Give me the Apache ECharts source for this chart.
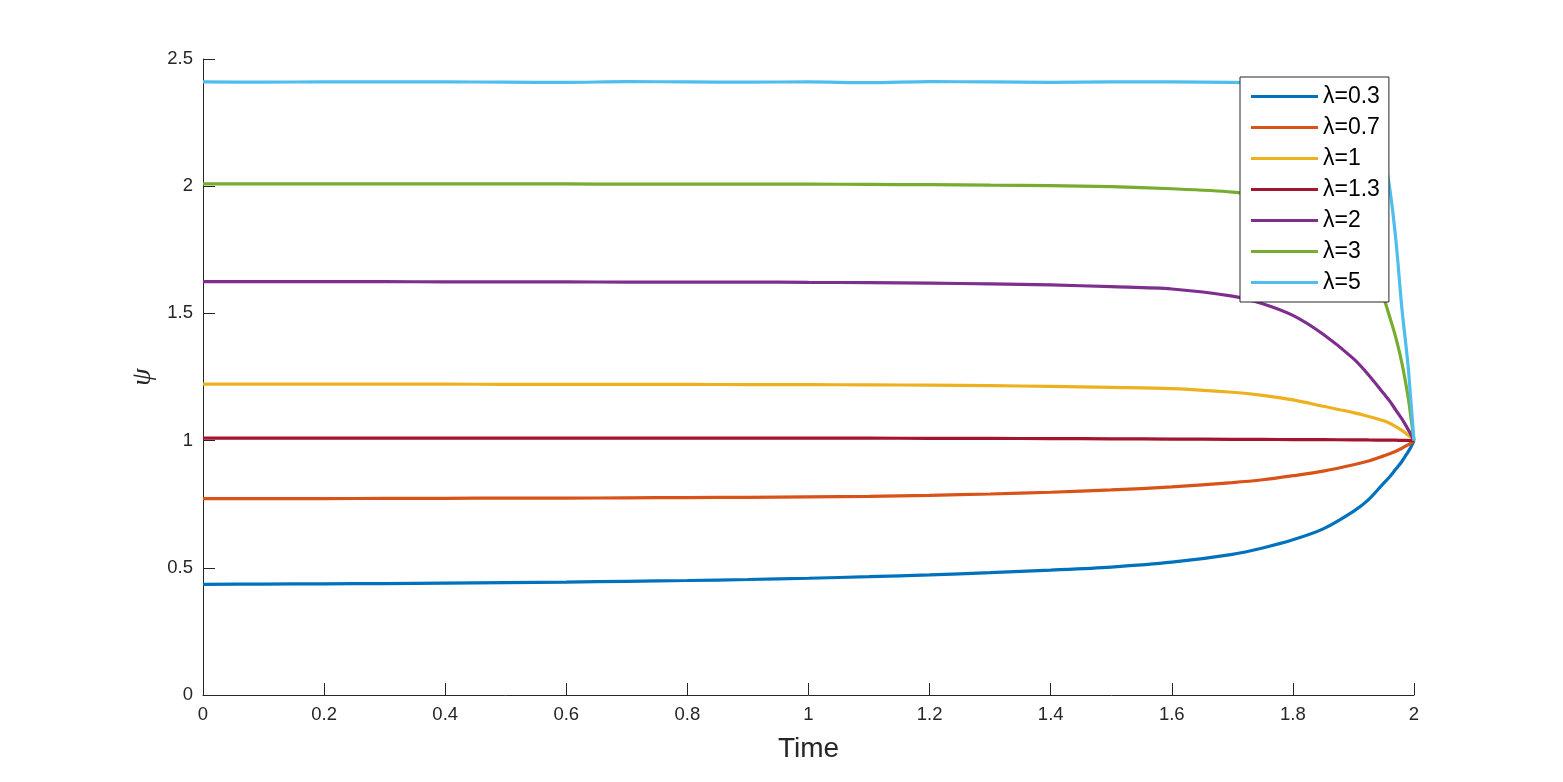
<!DOCTYPE html>
<html>
<head>
<meta charset="utf-8">
<title>psi vs time</title>
<script src="https://cdn.jsdelivr.net/npm/echarts@6/dist/echarts.min.js"></script>
<style>
  html, body { margin: 0; padding: 0; background: #fff; }
  #chart { width: 1563px; height: 782px; }
</style>
</head>
<body>
<div id="chart"></div>
<script>
// sample times (denser near t = 2 where the curves converge)
var time = [0, 0.1, 0.2, 0.3, 0.4, 0.5, 0.6, 0.7, 0.8, 0.9, 1.0, 1.1, 1.2, 1.3, 1.4, 1.5, 1.6, 1.7,
            1.75, 1.8, 1.85, 1.9, 1.925, 1.95, 1.96, 1.97, 1.98, 1.99, 1.995, 2.0];

var psi03 = [0.435, 0.436, 0.437, 0.438, 0.440, 0.442, 0.444, 0.447, 0.450, 0.454, 0.459, 0.465, 0.472, 0.481, 0.491, 0.503, 0.522, 0.553,
             0.578, 0.610, 0.653, 0.722, 0.768, 0.833, 0.858, 0.888, 0.918, 0.955, 0.975, 1.0];
var psi07 = [0.772, 0.772, 0.772, 0.773, 0.773, 0.774, 0.774, 0.775, 0.776, 0.777, 0.779, 0.781, 0.785, 0.790, 0.797, 0.806, 0.818, 0.835,
             0.846, 0.862, 0.880, 0.905, 0.920, 0.940, 0.948, 0.958, 0.970, 0.983, 0.990, 1.0];
var psi1 = [1.222, 1.222, 1.222, 1.222, 1.222, 1.221, 1.221, 1.221, 1.221, 1.220, 1.220, 1.219, 1.218, 1.216, 1.213, 1.209, 1.204, 1.190,
            1.178, 1.160, 1.135, 1.110, 1.095, 1.078, 1.068, 1.055, 1.040, 1.022, 1.012, 1.0];
var psi13 = [1.010, 1.010, 1.010, 1.010, 1.010, 1.010, 1.010, 1.010, 1.010, 1.010, 1.010, 1.0095, 1.009, 1.0085, 1.008, 1.007, 1.006, 1.005,
             1.0045, 1.004, 1.0035, 1.003, 1.0025, 1.002, 1.0018, 1.0015, 1.001, 1.0005, 1.0003, 1.0];
var psi2 = [1.625, 1.625, 1.625, 1.625, 1.624, 1.624, 1.624, 1.623, 1.623, 1.623, 1.622, 1.621, 1.619, 1.616, 1.612, 1.605, 1.596, 1.568,
            1.538, 1.492, 1.418, 1.322, 1.258, 1.185, 1.155, 1.120, 1.085, 1.045, 1.023, 1.0];
var psi3 = [2.009, 2.009, 2.009, 2.009, 2.009, 2.009, 2.009, 2.008, 2.008, 2.008, 2.008, 2.007, 2.006, 2.004, 2.002, 1.998, 1.990, 1.977,
            1.960, 1.935, 1.885, 1.790, 1.700, 1.560, 1.485, 1.405, 1.305, 1.175, 1.090, 1.0];
var psi5 = [2.410, 2.409, 2.410, 2.410, 2.410, 2.409, 2.408, 2.411, 2.410, 2.409, 2.410, 2.407, 2.411, 2.410, 2.408, 2.410, 2.410, 2.408,
            2.405, 2.400, 2.385, 2.340, 2.280, 2.120, 1.990, 1.790, 1.520, 1.300, 1.150, 1.0];

var lambdaNames = ['λ=0.3', 'λ=0.7', 'λ=1', 'λ=1.3', 'λ=2', 'λ=3', 'λ=5'];
var lambdaValues = [psi03, psi07, psi1, psi13, psi2, psi3, psi5];
var colors = ['#0072BD', '#D95319', '#EDB120', '#A2142F', '#7E2F8E', '#77AC30', '#4DBEEE'];

var axisColor = '#262626';
var font = 'Liberation Sans, Arial, Helvetica, sans-serif';

var chart = echarts.init(document.getElementById('chart'));

var series = [];
for (var i = 0; i < lambdaNames.length; i++) {
  var vals = lambdaValues[i];
  series.push({
    name: lambdaNames[i],
    type: 'line',
    showSymbol: false,
    symbol: 'none',
    smooth: 0.3,
    color: colors[i],
    lineStyle: { width: 3.2, color: colors[i] },
    data: time.map(function (t, k) { return [t, vals[k]]; })
  });
}

var option = {
  animation: false,
  backgroundColor: '#fff',
  grid: { left: 203, right: 149, top: 59, bottom: 87 },
  legend: {
    orient: 'vertical',
    left: 1240,
    top: 77,
    icon: 'rect',
    itemWidth: 67,
    itemHeight: 3,
    itemGap: 8,
    padding: [8, 9, 8, 11],
    backgroundColor: '#fff',
    borderColor: axisColor,
    borderWidth: 1,
    borderRadius: 0,
    textStyle: { fontFamily: font, fontSize: 23, lineHeight: 22, color: '#000' },
    data: lambdaNames
  },
  xAxis: {
    type: 'value',
    min: 0,
    max: 2,
    interval: 0.2,
    name: 'Time',
    nameLocation: 'middle',
    nameGap: 40,
    nameTextStyle: { fontFamily: font, fontSize: 28, color: axisColor },
    axisLine: { lineStyle: { color: axisColor, width: 1 } },
    axisTick: { inside: true, length: 12, lineStyle: { color: axisColor } },
    axisLabel: { fontFamily: font, fontSize: 18.5, color: axisColor, margin: 10 },
    splitLine: { show: false }
  },
  yAxis: {
    type: 'value',
    min: 0,
    max: 2.5,
    interval: 0.5,
    name: 'ψ',
    nameLocation: 'middle',
    nameRotate: 90,
    nameGap: 41,
    nameTextStyle: { fontFamily: 'Liberation Serif, DejaVu Serif, serif', fontStyle: 'italic', fontSize: 28, color: axisColor },
    axisLine: { lineStyle: { color: axisColor, width: 1 } },
    axisTick: { inside: true, length: 12, lineStyle: { color: axisColor } },
    axisLabel: { fontFamily: font, fontSize: 18.5, color: axisColor, margin: 10 },
    splitLine: { show: false }
  },
  series: series
};

chart.setOption(option);

window.addEventListener('resize', function () {
  chart.resize();
});
</script>
</body>
</html>
